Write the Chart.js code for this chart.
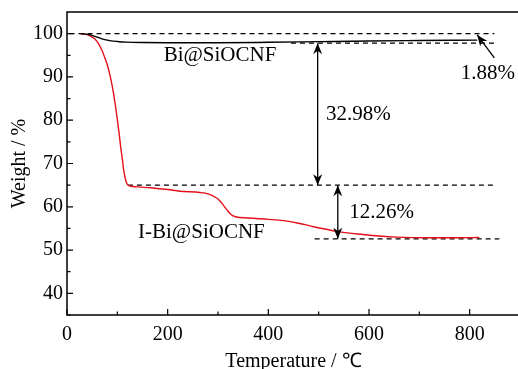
<!DOCTYPE html>
<html>
<head>
<meta charset="utf-8">
<script src="https://cdn.jsdelivr.net/npm/chart.js@4/dist/chart.umd.min.js"></script>
<style>
  html, body { margin: 0; padding: 0; background: #fff; overflow: hidden; }
</style>
</head>
<body>
<canvas id="tgaChart" width="530" height="369"></canvas>
<script>
// TGA curves (temperature in C, weight in %)
var biTemp   = [27, 35, 46, 60, 71, 85, 100, 118, 150, 200, 300, 400, 500, 600, 700, 815];
var biWeight = [100, 99.95, 99.7, 99.2, 98.75, 98.4, 98.2, 98.05, 97.95, 97.9, 97.9, 98.0, 98.15, 98.3, 98.4, 98.5];

var ibiTemp   = [27, 35, 46, 55, 62, 70, 75, 80, 85, 90, 95, 100, 104, 107, 110, 112, 115, 118, 121, 125, 140, 165, 200, 224, 264, 280, 290, 300, 307, 317, 327, 335, 360, 400, 430, 460, 490, 515, 542, 588, 620, 654, 720, 770, 819];
var ibiWeight = [100, 99.9, 99.5, 98.8, 97.8, 96.0, 94.5, 92.8, 90.6, 87.8, 84.3, 80.2, 76.5, 73.5, 71.0, 69.0, 67.0, 65.6, 65.0, 64.8, 64.6, 64.4, 64.0, 63.6, 63.3, 63.0, 62.5, 61.8, 60.9, 59.4, 58.1, 57.7, 57.4, 57.1, 56.8, 56.2, 55.4, 54.8, 54.2, 53.6, 53.25, 53.0, 52.85, 52.85, 52.9];

// tick values
var xTicks = [0, 200, 400, 600, 800];
var yTicks = [40, 50, 60, 70, 80, 90, 100];

// dashed reference levels
var refLevel = [100, 97.8, 65.0, 52.6];
var refFrom  = [5, 445, 121, 492];
var refTo    = [849, 849, 853, 859];

// arrows: [x1, y1, x2, y2, doubleHeaded]
var arrows = [
    [498, 97.8, 498, 65.0, true],
    [538, 65.0, 538, 52.6, true],
    [849, 94.4, 815, 99.7, false]
];

// text labels: [text, x, y]
var notes = [
    ['Bi@SiOCNF', 304, 94.9],
    ['1.88%', 836, 90.9],
    ['32.98%', 579, 81.4],
    ['12.26%', 625, 58.7],
    ['I-Bi@SiOCNF', 267, 54.1]
];

function toPoints(xs, ys) {
    return xs.map(function(v, i) { return {x: v, y: ys[i]}; });
}

var datasets = [
    {
        label: 'Bi@SiOCNF',
        data: toPoints(biTemp, biWeight),
        borderColor: '#000000',
        borderWidth: 1.4,
        pointRadius: 0,
        cubicInterpolationMode: 'monotone'
    },
    {
        label: 'I-Bi@SiOCNF',
        data: toPoints(ibiTemp, ibiWeight),
        borderColor: '#e3101b',
        borderWidth: 1.4,
        pointRadius: 0,
        cubicInterpolationMode: 'monotone'
    }
];

refLevel.forEach(function(lv, i) {
    datasets.push({
        label: 'ref' + i,
        data: [{x: refFrom[i], y: lv}, {x: refTo[i], y: lv}],
        borderColor: '#000000',
        borderWidth: 1.2,
        borderDash: [5, 4],
        pointRadius: 0
    });
});

function drawHead(ctx, fx, fy, tx, ty) {
    var ang = Math.atan2(ty - fy, tx - fx);
    var len = 11, half = 4.5;
    ctx.beginPath();
    ctx.moveTo(tx, ty);
    ctx.lineTo(tx - len * Math.cos(ang) + half * Math.sin(ang), ty - len * Math.sin(ang) - half * Math.cos(ang));
    ctx.lineTo(tx - len * 0.7 * Math.cos(ang), ty - len * 0.7 * Math.sin(ang));
    ctx.lineTo(tx - len * Math.cos(ang) - half * Math.sin(ang), ty - len * Math.sin(ang) + half * Math.cos(ang));
    ctx.closePath();
    ctx.fill();
}

var decorations = {
    id: 'decorations',
    afterDatasetsDraw: function(chart) {
        var ctx = chart.ctx, a = chart.chartArea;
        var xs = chart.scales.x, ys = chart.scales.y;
        ctx.save();
        ctx.strokeStyle = '#000';
        ctx.fillStyle = '#000';

        // frame
        ctx.lineWidth = 1.5;
        ctx.strokeRect(a.left, a.top, a.right - a.left, a.bottom - a.top);

        // inward tick marks, minor ones halfway between majors
        ctx.lineWidth = 1.2;
        ctx.beginPath();
        xs.ticks.forEach(function(t) {
            var p = xs.getPixelForValue(t.value);
            ctx.moveTo(p, a.bottom); ctx.lineTo(p, a.bottom - 6);
            var m = xs.getPixelForValue(t.value + 100);
            ctx.moveTo(m, a.bottom); ctx.lineTo(m, a.bottom - 3.5);
        });
        ys.ticks.forEach(function(t) {
            var p = ys.getPixelForValue(t.value);
            ctx.moveTo(a.left, p); ctx.lineTo(a.left + 6, p);
            var m = ys.getPixelForValue(t.value - 5);
            ctx.moveTo(a.left, m); ctx.lineTo(a.left + 3.5, m);
        });
        ctx.stroke();

        // arrows
        ctx.lineWidth = 1.3;
        arrows.forEach(function(ar) {
            var x1 = xs.getPixelForValue(ar[0]), y1 = ys.getPixelForValue(ar[1]);
            var x2 = xs.getPixelForValue(ar[2]), y2 = ys.getPixelForValue(ar[3]);
            ctx.beginPath();
            ctx.moveTo(x1, y1); ctx.lineTo(x2, y2);
            ctx.stroke();
            drawHead(ctx, x1, y1, x2, y2);
            if (ar[4]) drawHead(ctx, x2, y2, x1, y1);
        });

        // labels
        ctx.font = '21px "Liberation Serif", "Times New Roman", serif';
        ctx.textAlign = 'center';
        ctx.textBaseline = 'middle';
        notes.forEach(function(n) {
            ctx.fillText(n[0], xs.getPixelForValue(n[1]), ys.getPixelForValue(n[2]));
        });
        ctx.restore();
    }
};

var serif = '"Liberation Serif", "Times New Roman", serif';

new Chart(document.getElementById('tgaChart').getContext('2d'), {
    type: 'line',
    data: { datasets: datasets },
    options: {
        responsive: false,
        animation: false,
        events: [],
        layout: { padding: { top: 12, right: 10, left: 0, bottom: 0 } },
        plugins: {
            legend: { display: false },
            tooltip: { enabled: false }
        },
        scales: {
            x: {
                type: 'linear',
                min: 0,
                max: 900,
                grid: { display: false, drawTicks: false },
                border: { display: false },
                ticks: {
                    maxRotation: 0,
                    padding: 8,
                    color: '#000',
                    font: { family: serif, size: 20 }
                },
                afterBuildTicks: function(scale) {
                    scale.ticks = xTicks.map(function(v) { return {value: v}; });
                },
                title: {
                    display: true,
                    text: 'Temperature / ℃',
                    color: '#000',
                    padding: 0,
                    font: { family: serif, size: 20, lineHeight: 0.7 }
                },
                afterFit: function(scale) {
                    scale.height = 54;
                    scale.paddingLeft = 0;
                    scale.paddingRight = 0;
                }
            },
            y: {
                type: 'linear',
                min: 35,
                max: 105,
                grid: { display: false, drawTicks: false },
                border: { display: false },
                ticks: {
                    padding: 4,
                    color: '#000',
                    font: { family: serif, size: 20 }
                },
                afterBuildTicks: function(scale) {
                    scale.ticks = yTicks.map(function(v) { return {value: v}; });
                },
                title: {
                    display: true,
                    text: 'Weight / %',
                    color: '#000',
                    padding: { top: 8, bottom: 0 },
                    font: { family: serif, size: 20 }
                },
                afterFit: function(scale) {
                    scale.width = 67;
                    scale.paddingTop = 0;
                    scale.paddingBottom = 0;
                }
            }
        }
    },
    plugins: [decorations]
});
</script>
</body>
</html>
